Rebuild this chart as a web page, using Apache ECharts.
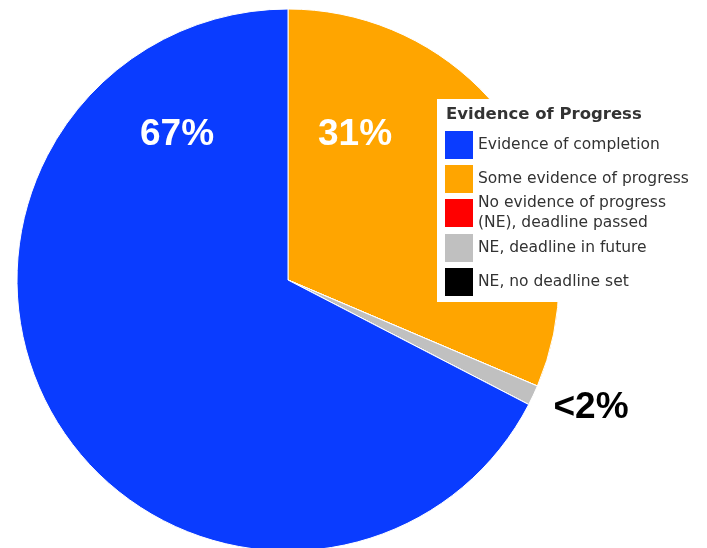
<!DOCTYPE html>
<html>
<head>
<meta charset="utf-8">
<script src="https://cdn.jsdelivr.net/npm/echarts@6/dist/echarts.min.js"></script>
<style>
	html, body { margin: 0; padding: 0; background: #fff; }
	#chart { width: 707px; height: 548px; }
</style>
</head>
<body>
<div id="chart"></div>
<script>
// slice order follows the pie clockwise from 12 o'clock
const categories = ['Some evidence of progress', 'No evidence of progress\n(NE), deadline passed', 'NE, deadline in future', 'NE, no deadline set', 'Evidence of completion']
const values = [31.4, 0, 1.2, 0, 67.4]
const sliceLabels = ['31%', '', '<2%', '', '67%']
const colors = ['#ffa500', '#ff0000', '#c0c0c0', '#000000', '#0a3cff']
const legendOrder = ['Evidence of completion', 'Some evidence of progress', 'No evidence of progress\n(NE), deadline passed', 'NE, deadline in future', 'NE, no deadline set']

// where each label sits (by data index)
const labelPos = {
	0: { x: 355, y: 135, color: '#fff' },
	2: { x: 591, y: 408, color: '#000' },
	4: { x: 177, y: 135, color: '#fff' }
}

const legendText = {
	fontFamily: 'DejaVu Sans',
	fontSize: 15.5,
	lineHeight: 20,
	color: '#333'
}

// the two-line entry is taller than the others, so the legend is split in three
function makeLegend(names, top) {
	return {
		orient: 'vertical',
		left: 445,
		top: top,
		padding: 0,
		z: 4,
		itemWidth: 28,
		itemHeight: 28,
		itemGap: 6,
		itemTextGap: 7,
		itemStyle: { borderWidth: 0 },
		icon: 'rect',
		selectedMode: false,
		data: names,
		textStyle: legendText
	}
}

const chart = echarts.init(document.getElementById('chart'))

chart.setOption({
	animation: false,
	graphic: [
		{
			type: 'rect',
			z: 3,
			shape: { x: 437, y: 99, width: 264, height: 203 },
			style: { fill: '#fff' }
		}
	],
	title: {
		text: 'Evidence of Progress',
		left: 446,
		top: 106,
		z: 5,
		padding: 0,
		textStyle: {
			fontFamily: 'DejaVu Sans',
			fontWeight: 'bold',
			fontSize: 16.5,
			color: '#333'
		}
	},
	legend: [
		makeLegend(legendOrder.slice(0, 2), 131),
		makeLegend(legendOrder.slice(2, 3), 193),
		makeLegend(legendOrder.slice(3), 234)
	],
	series: [
		{
			type: 'pie',
			center: [288, 280],
			radius: 271,
			startAngle: 90,
			clockwise: true,
			itemStyle: {
				borderColor: '#fff',
				borderWidth: 1
			},
			emphasis: { disabled: true },
			label: {
				show: true,
				position: 'inside',
				fontFamily: 'Liberation Sans',
				fontWeight: 'bold',
				fontSize: 37,
				formatter: p => sliceLabels[p.dataIndex]
			},
			labelLine: { show: false },
			labelLayout: params => {
				const pos = labelPos[params.dataIndex]
				if (!pos) return {}
				return { x: pos.x, y: pos.y, align: 'center', verticalAlign: 'middle' }
			},
			data: categories.map((name, i) => ({
				name: name,
				value: values[i],
				itemStyle: { color: colors[i] },
				label: { color: labelPos[i] ? labelPos[i].color : '#fff' }
			}))
		}
	]
})
</script>
</body>
</html>
